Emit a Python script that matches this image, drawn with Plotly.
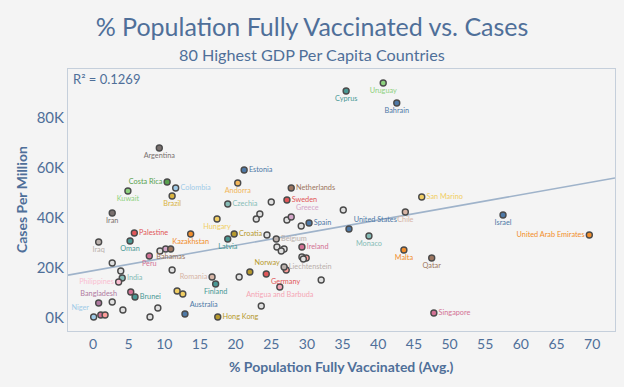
import numpy as np
import plotly.graph_objects as go

# ---------------- data ----------------
labeled_names = [
    "Uruguay", "Cyprus", "Bahrain", "Argentina", "Estonia", "Costa Rica", "Colombia",
    "Andorra", "Kuwait", "Brazil", "Netherlands", "Sweden", "Greece", "Czechia",
    "Hungary", "Spain", "United States", "Chile", "San Marino", "Monaco", "Israel",
    "United Arab Emirates", "Malta", "Qatar", "Singapore", "Croatia", "Belgium",
    "Latvia", "Ireland", "Norway", "Liechtenstein", "Germany", "Antigua and Barbuda",
    "Hong Kong", "Australia", "Romania", "Finland", "Kazakhstan", "Iran", "Palestine",
    "Iraq", "Oman", "Bahamas", "Peru", "India", "Philippines", "Bangladesh", "Brunei",
    "Niger",
]
labeled_vacc = [
    40.7, 35.5, 42.6, 9.3, 21.2, 10.4, 11.6,
    20.3, 4.9, 11.1, 27.8, 27.2, 27.8, 18.9,
    17.4, 30.3, 35.9, 43.8, 46.1, 38.7, 57.5,
    69.6, 43.6, 47.5, 47.8, 19.8, 25.7,
    18.9, 29.3, 22.0, 26.8, 24.3, 26.2,
    17.5, 12.9, 16.7, 17.2, 13.7, 2.7, 5.8,
    0.8, 5.2, 10.9, 7.9, 4.1, 3.6, 0.8, 5.9,
    0.1,
]
labeled_cases = [
    94000, 90800, 86000, 68000, 59200, 54400, 52000,
    54000, 50800, 48800, 52000, 47200, 40400, 45600,
    39600, 38000, 35600, 42400, 48400, 32800, 41200,
    33200, 27200, 24000, 2000, 33600, 31600,
    31600, 28400, 18400, 20400, 17600, 12400,
    400, 1600, 16400, 13600, 33600, 42000, 34000,
    30400, 30800, 27600, 24800, 16000, 14400, 6000, 8400,
    400,
]
labeled_colors = [
    "#8cd17d", "#499894", "#4e79a7", "#79706e", "#4e79a7", "#59a14f", "#a0cbe8",
    "#f2b65a", "#8cd17d", "#d9b340", "#9d7660", "#e15759", "#d4a6c8", "#86bcb6",
    "#f1ce63", "#4e79a7", "#4e79a7", "#d7b5a6", "#f1ce63", "#86bcb6", "#4e79a7",
    "#f28e2b", "#f28e2b", "#9d7660", "#d37295", "#b6992d", "#bab0ac",
    "#499894", "#d37295", "#b6992d", "#bab0ac", "#e15759", "#f4a6b5",
    "#b6992d", "#4e79a7", "#d7b5a6", "#499894", "#f28e2b", "#79706e", "#e15759",
    "#bab0ac", "#499894", "#9d7660", "#d37295", "#86bcb6", "#fabfd2", "#b07aa1", "#499894",
    "#a0cbe8",
]
label_positions = [
    "bottom center", "bottom center", "bottom center", "bottom center", "middle right", "middle left", "middle right",
    "bottom center", "bottom center", "bottom center", "middle right", "middle right", "top right", "middle right",
    "bottom center", "middle right", "top right", "bottom center", "middle right", "bottom center", "bottom center",
    "middle left", "bottom center", "bottom center", "middle right", "middle right", "middle right",
    "bottom center", "middle right", "top right", "middle right", "bottom right", "bottom center",
    "middle right", "top right", "middle left", "bottom center", "bottom center", "bottom center", "middle right",
    "bottom center", "bottom center", "bottom center", "bottom center", "middle right", "middle left", "top center", "middle right",
    "top left",
]

other_vacc = [
    35.1, 25.0, 23.4, 22.9, 27.2, 29.2, 24.4, 25.8, 26.8, 26.4,
    29.3, 29.9, 29.5, 32.0, 20.5, 27.1, 23.6, 9.4, 10.2, 2.7,
    3.9, 11.1, 5.3, 2.7, 11.8, 12.6, 9.1, 4.2, 1.1, 1.7, 8.0,
]
other_cases = [
    43200, 46400, 41600, 39600, 39200, 36800, 33200, 28400, 27600, 26800,
    24400, 24000, 23600, 15200, 16400, 19200, 4800, 26800, 27600, 22000,
    18800, 19200, 10400, 6400, 10800, 9600, 4000, 3200, 1200, 1200, 400,
]
other_colors = [
    "#e0e0e0", "#e0e0e0", "#e0e0e0", "#e0e0e0", "#e0e0e0", "#e0e0e0", "#e0e0e0", "#e0e0e0", "#e0e0e0", "#e0e0e0",
    "#e0e0e0", "#ff9d9a", "#e0e0e0", "#e0e0e0", "#e0e0e0", "#ff9d9a", "#e0e0e0", "#e0e0e0", "#d4a6c8", "#e0e0e0",
    "#e0e0e0", "#e0e0e0", "#d37295", "#e0e0e0", "#f1ce63", "#f1ce63", "#e0e0e0", "#e0e0e0", "#d37295", "#ff9d9a", "#e0e0e0",
]

r2_text = "R² = 0.1269"
y_tickvals = [0, 20000, 40000, 60000, 80000]
y_ticktext = ["0K", "20K", "40K", "60K", "80K"]
x_tickvals = list(range(0, 75, 5))

X_RANGE = [-3.5, 73.2]
Y_RANGE = [-5200, 99600]

TXT = "#4f6f99"
FONT = "Lato"
BG = "#f4f4f4"

# ---------------- figure ----------------
fig = go.Figure()

# trend line (least squares fit over all points)
all_x = np.array(labeled_vacc + other_vacc)
all_y = np.array(labeled_cases + other_cases)
slope, intercept = np.polyfit(all_x, all_y, 1)
lx = np.array(X_RANGE)
fig.add_trace(go.Scatter(
    x=lx, y=slope * lx + intercept, mode="lines",
    line=dict(color="#9fb3ca", width=1.6), hoverinfo="skip", showlegend=False,
))

fig.add_trace(go.Scatter(
    x=other_vacc, y=other_cases, mode="markers",
    marker=dict(size=6, color=other_colors, line=dict(color="#4a4a4a", width=1.4)),
    showlegend=False,
))

fig.add_trace(go.Scatter(
    x=labeled_vacc, y=labeled_cases, mode="markers+text",
    text=labeled_names, textposition=label_positions,
    textfont=dict(family=FONT, size=7.3, color=labeled_colors),
    marker=dict(size=6, color=labeled_colors, line=dict(color="#4a4a4a", width=1.4)),
    showlegend=False,
))

fig.update_layout(
    width=624, height=387,
    margin=dict(l=68, r=9, t=69, b=56, autoexpand=False),
    paper_bgcolor=BG, plot_bgcolor=BG,
    font=dict(family=FONT, color=TXT),
    title=dict(text="% Population Fully Vaccinated vs. Cases", x=0.5, xanchor="center",
               xref="container", yref="container",
               y=1 - 27 / 387, yanchor="middle", font=dict(family=FONT, size=25, color=TXT)),
    xaxis=dict(range=X_RANGE, tickvals=x_tickvals, showgrid=False, zeroline=False,
               showline=True, mirror=True, linecolor="#c5cfdb", linewidth=1, automargin=False,
               tickfont=dict(size=14, color=TXT), ticks=""),
    yaxis=dict(range=Y_RANGE, tickvals=y_tickvals, ticktext=y_ticktext, showgrid=False,
               zeroline=False, showline=True, mirror=True, linecolor="#c5cfdb", linewidth=1,
               automargin=False, tickfont=dict(size=15, color=TXT), ticks=""),
    annotations=[
        dict(text="80 Highest GDP Per Capita Countries", xref="paper", yref="paper",
             x=(312 - 68) / 547, y=(331 - 54) / 262, xanchor="center", yanchor="middle", showarrow=False,
             font=dict(family=FONT, size=16.2, color=TXT)),
        dict(text="<b>% Population Fully Vaccinated (Avg.)</b>", xref="paper", yref="paper",
             x=0.5, y=(331 - 366) / 262, xanchor="center", yanchor="middle", showarrow=False,
             font=dict(family=FONT, size=14, color=TXT)),
        dict(text="<b>Cases Per Million</b>", xref="paper", yref="paper", textangle=-90,
             x=(21 - 68) / 547, y=0.5, xanchor="center", yanchor="middle", showarrow=False,
             font=dict(family=FONT, size=14, color=TXT)),
        dict(text=r2_text, xref="paper", yref="paper", x=0.005, y=(331 - 79) / 262,
             xanchor="left", yanchor="middle", showarrow=False,
             font=dict(family=FONT, size=13, color=TXT)),
    ],
)

fig.write_html(
    "out.html",
    config={"displayModeBar": False},
    post_script="document.body.style.margin='0';document.body.style.background='#f4f4f4';",
)
